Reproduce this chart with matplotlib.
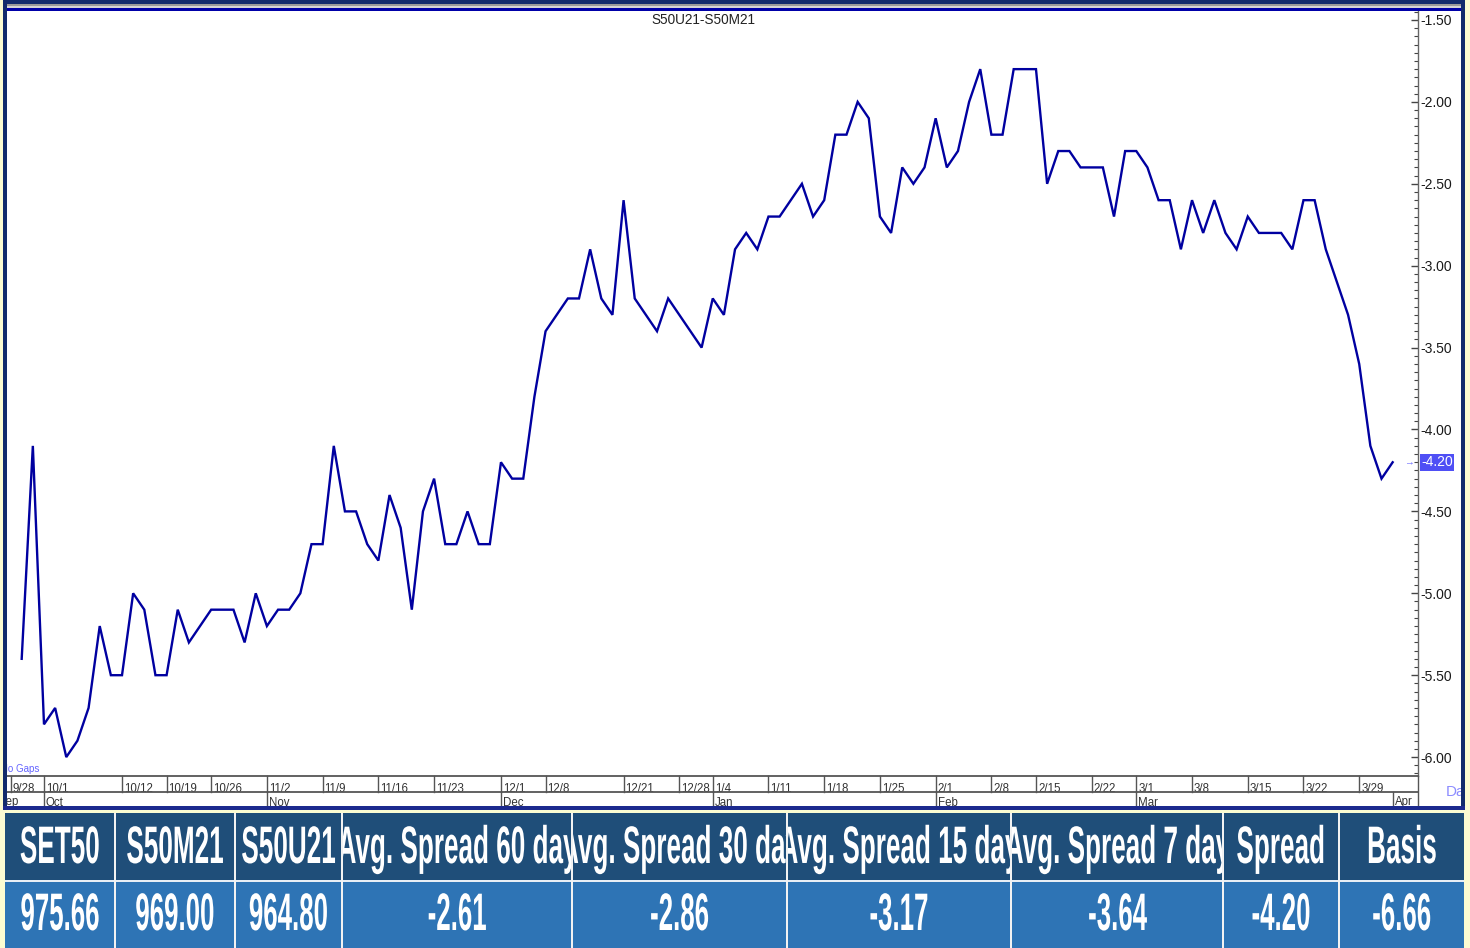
import numpy as np
import matplotlib
matplotlib.use('Agg')
import matplotlib.pyplot as plt
from matplotlib.patches import Rectangle
from matplotlib.ticker import MultipleLocator, FormatStrFormatter
from matplotlib import transforms
from matplotlib.patheffects import AbstractPathEffect
from matplotlib.transforms import Affine2D, ScaledTranslation, Bbox, TransformedBbox

plt.rcParams['font.family'] = ['Liberation Sans', 'DejaVu Sans']
plt.rcParams['axes.unicode_minus'] = False

# ---------------- data ----------------
dates = ["9/28", "9/29", "9/30",
         "10/1", "10/2", "10/5", "10/6", "10/7", "10/8", "10/9", "10/12", "10/14", "10/15",
         "10/16", "10/19", "10/20", "10/21", "10/22", "10/26", "10/27", "10/28", "10/29", "10/30",
         "11/2", "11/3", "11/4", "11/5", "11/6", "11/9", "11/10", "11/11", "11/12", "11/13",
         "11/16", "11/17", "11/18", "11/19", "11/20", "11/23", "11/24", "11/25", "11/26", "11/27", "11/30",
         "12/1", "12/2", "12/3", "12/4", "12/8", "12/9", "12/14", "12/15", "12/16", "12/17", "12/18",
         "12/21", "12/22", "12/23", "12/24", "12/25", "12/28", "12/29", "12/30",
         "1/4", "1/5", "1/6", "1/7", "1/8", "1/11", "1/12", "1/13", "1/14", "1/15", "1/18", "1/19",
         "1/20", "1/21", "1/22", "1/25", "1/26", "1/27", "1/28", "1/29",
         "2/1", "2/2", "2/3", "2/4", "2/5", "2/8", "2/9", "2/10", "2/11", "2/15", "2/16", "2/17",
         "2/18", "2/19", "2/22", "2/23", "2/24", "2/25",
         "3/1", "3/2", "3/3", "3/4", "3/5", "3/8", "3/9", "3/10", "3/11", "3/12", "3/15", "3/16",
         "3/17", "3/18", "3/19", "3/22", "3/23", "3/24", "3/25", "3/26", "3/29", "3/30", "3/31",
         "4/1"]

spread = [np.nan,
          -5.4, -4.1, -5.8, -5.7, -6.0, -5.9, -5.7, -5.2, -5.5, -5.5,
          -5.0, -5.1, -5.5, -5.5, -5.1, -5.3, -5.2, -5.1, -5.1, -5.1,
          -5.3, -5.0, -5.2, -5.1, -5.1, -5.0, -4.7, -4.7, -4.1, -4.5,
          -4.5, -4.7, -4.8, -4.4, -4.6, -5.1, -4.5, -4.3, -4.7, -4.7,
          -4.5, -4.7, -4.7, -4.2, -4.3, -4.3, -3.8, -3.4, -3.3, -3.2,
          -3.2, -2.9, -3.2, -3.3, -2.6, -3.2, -3.3, -3.4, -3.2, -3.3,
          -3.4, -3.5, -3.2, -3.3, -2.9, -2.8, -2.9, -2.7, -2.7, -2.6,
          -2.5, -2.7, -2.6, -2.2, -2.2, -2.0, -2.1, -2.7, -2.8, -2.4,
          -2.5, -2.4, -2.1, -2.4, -2.3, -2.0, -1.8, -2.2, -2.2, -1.8,
          -1.8, -1.8, -2.5, -2.3, -2.3, -2.4, -2.4, -2.4, -2.7, -2.3,
          -2.3, -2.4, -2.6, -2.6, -2.9, -2.6, -2.8, -2.6, -2.8, -2.9,
          -2.7, -2.8, -2.8, -2.8, -2.9, -2.6, -2.6, -2.9, -3.1, -3.3,
          -3.6, -4.1, -4.3, -4.2]

date_ticks = ["9/28", "10/1", "10/12", "10/19", "10/26", "11/2", "11/9", "11/16", "11/23",
              "12/1", "12/8", "12/21", "12/28", "1/4", "1/11", "1/18", "1/25", "2/1", "2/8",
              "2/15", "2/22", "3/1", "3/8", "3/15", "3/22", "3/29"]
month_labels = ["Sep", "Oct", "Nov", "Dec", "Jan", "Feb", "Mar", "Apr"]
month_starts = ["9/1", "10/1", "11/2", "12/1", "1/4", "2/1", "3/1", "4/1"]

title = "S50U21-S50M21"
table_headers = ["SET50", "S50M21", "S50U21", "Avg. Spread 60 day", "Avg. Spread 30 day",
                 "Avg. Spread 15 day", "Avg. Spread 7 day", "Spread", "Basis"]
table_values = [975.66, 969.00, 964.80, -2.61, -2.86, -3.17, -3.64, -4.20, -6.66]


# ------------- helper: horizontally condensed text rendering -------------
class HSqueeze(AbstractPathEffect):
    def __init__(self, sx):
        super().__init__()
        self.sx = sx

    def draw_path(self, renderer, gc, tpath, affine, rgbFace=None):
        ext = tpath.get_extents()
        cx = 0.5 * (ext.x0 + ext.x1)
        t = Affine2D().translate(-cx, 0).scale(self.sx, 1.0).translate(cx, 0) + affine
        renderer.draw_path(gc, tpath, t, rgbFace)


W, H = 1470, 948
fig = plt.figure(figsize=(W / 100, H / 100), dpi=100, facecolor='#FCFCD2')

bg = fig.add_axes([0, 0, 1, 1], zorder=-1)
fg = fig.add_axes([0, 0, 1, 1], zorder=2)
for o in (bg, fg):
    o.set_xlim(0, W)
    o.set_ylim(H, 0)
    o.set_axis_off()
    o.patch.set_visible(False)


def clip_to(artist, x0, y0, x1, y1):
    artist.set_clip_on(True)
    artist.set_clip_box(TransformedBbox(Bbox([[x0, y0], [x1, y1]]), fg.transData))


# white chart panel
bg.add_patch(Rectangle((7, 4), 1454, 802, facecolor='white', edgecolor='none'))

# ---------------- main axes ----------------
ax_l, ax_r, ax_t, ax_b = 7, 1418, 11, 776
ax = fig.add_axes([ax_l / W, 1 - ax_b / H, (ax_r - ax_l) / W, (ax_b - ax_t) / H], zorder=1)
ax.patch.set_visible(False)

x = np.arange(len(dates))
ax.plot(x, spread, color='#0000A0', lw=1.7, solid_joinstyle='miter')

px_per_day = 11.146
x0_px = 10.55
ax.set_xlim((ax_l - x0_px) / px_per_day, (ax_r - x0_px) / px_per_day)
ax.set_ylim(-1.5 - (776 - 20) / 163.8, -1.5 + 9 / 163.8)

for s in ('top', 'left', 'bottom'):
    ax.spines[s].set_visible(False)
ax.spines['right'].set_color('#666666')
ax.spines['right'].set_linewidth(1.0)
ax.set_xticks([])
ax.yaxis.tick_right()
ax.yaxis.set_major_locator(MultipleLocator(0.5))
ax.yaxis.set_minor_locator(MultipleLocator(0.05))
ax.yaxis.set_major_formatter(FormatStrFormatter('%.2f'))
ax.tick_params(axis='y', which='both', direction='in', right=True, left=False,
               labelright=True, labelleft=False, color='#444444', labelcolor='#1a1a1a',
               labelsize=10, pad=2)
ax.tick_params(axis='y', which='major', length=5, width=1)
ax.tick_params(axis='y', which='minor', length=3, width=0.8)

# last value marker
last = spread[-1]
blend = transforms.blended_transform_factory(ax.transAxes, ax.transData)
ax.text(1.0, last, '%.2f' % last, transform=blend + ScaledTranslation(3 / 100, 0, fig.dpi_scale_trans),
        ha='left', va='center', color='white', fontsize=10, clip_on=False,
        bbox=dict(boxstyle='square,pad=0.1', fc='#4F4FF5', ec='none'))
ax.text(1.0, last, '→', transform=blend + ScaledTranslation(-4 / 100, 0, fig.dpi_scale_trans),
        ha='right', va='center', color='#6F6FFF', fontsize=7, clip_on=False)

# title
fg.text(703, 20, title, ha='center', va='center', fontsize=9.8, color='#222222')

# "No Gaps" and "Daily"
t_ng = fg.text(1, 769, 'No Gaps', ha='left', va='center', fontsize=7, color='#6464FF', zorder=1)
clip_to(t_ng, 7, 755, 300, 776)
t_da = fg.text(1446, 792, 'Daily', ha='left', va='center', fontsize=11, color='#8C8CFF', zorder=1)
clip_to(t_da, 1419, 776, 1461, 806)

# ---------------- date strip ----------------
bx = transforms.blended_transform_factory(ax.transData, fg.transData)
fg.plot([ax_l, ax_r], [776, 776], color='#555555', lw=1.3, zorder=3)
fg.plot([ax_l, ax_r], [792, 792], color='#555555', lw=1.3, zorder=3)
fg.plot([ax_r, ax_r], [776, 806], color='#555555', lw=1.0, zorder=3)
txt_off = ScaledTranslation(2 / 100, 0, fig.dpi_scale_trans)
for d in date_ticks:
    j = dates.index(d)
    fg.plot([j, j], [776, 792], color='#555555', lw=1.0, transform=bx, zorder=3)
    t = fg.text(j, 791.5, d, transform=bx + txt_off, ha='left', va='baseline',
                fontsize=8.3, color='#333333', zorder=2)
    clip_to(t, 7, 776, ax_r, 792)
for m, d in zip(month_labels, month_starts):
    if d in dates and dates.index(d) > 0:
        j = dates.index(d)
        fg.plot([j, j], [792, 806], color='#555555', lw=1.0, transform=bx, zorder=3)
        t = fg.text(j, 805.5, m, transform=bx + txt_off, ha='left', va='baseline',
                    fontsize=8.3, color='#333333', zorder=2)
    else:
        t = fg.text(-1.05, 805.5, m, transform=bx, ha='left', va='baseline',
                    fontsize=8.3, color='#333333', zorder=2)
    clip_to(t, 7, 792, ax_r, 806)

# ---------------- frame ----------------
navy = '#122B6C'
fg.add_patch(Rectangle((3, 0), 1462, 4, fc=navy, ec='none', zorder=5))
fg.add_patch(Rectangle((3, 0), 4, 810, fc=navy, ec='none', zorder=5))
fg.add_patch(Rectangle((1461, 0), 4, 810, fc=navy, ec='none', zorder=5))
fg.add_patch(Rectangle((3, 806), 1462, 4, fc='#1C2A8E', ec='none', zorder=5))
fg.add_patch(Rectangle((7, 4), 1454, 2, fc='#9A9A9A', ec='none', zorder=5))
fg.add_patch(Rectangle((7, 6), 1454, 2, fc='#D4D4D4', ec='none', zorder=5))
fg.add_patch(Rectangle((7, 8), 1454, 3, fc='#0000A8', ec='none', zorder=5))

# ---------------- table ----------------
col_edges = [5, 115, 235, 342, 572, 787, 1011, 1223, 1339, 1464]
hdr_top, hdr_bot, val_top, val_bot = 813, 880, 882, 948
fg.add_patch(Rectangle((col_edges[0], hdr_top), col_edges[-1] - col_edges[0], hdr_bot - hdr_top,
                       fc='#1F4E79', ec='none', zorder=4))
fg.add_patch(Rectangle((col_edges[0], val_top), col_edges[-1] - col_edges[0], val_bot - val_top,
                       fc='#2E74B5', ec='none', zorder=4))
fg.add_patch(Rectangle((col_edges[0], hdr_bot), col_edges[-1] - col_edges[0], val_top - hdr_bot,
                       fc='#E8EEF5', ec='none', zorder=4))
for xe in col_edges[1:-1]:
    fg.add_patch(Rectangle((xe - 1, hdr_top), 2, val_bot - hdr_top, fc='#F2F2F2', ec='none', zorder=6))

for k, (h, v) in enumerate(zip(table_headers, table_values)):
    xl, xr = col_edges[k], col_edges[k + 1]
    cx = 0.5 * (xl + xr)
    t1 = fg.text(cx, 849, h, ha='center', va='center', fontsize=38, color='white',
                 fontweight='bold', zorder=5, path_effects=[HSqueeze(0.495)])
    clip_to(t1, xl + 1, hdr_top, xr - 1, hdr_bot)
    t2 = fg.text(cx, 916, '%.2f' % v, ha='center', va='center', fontsize=38, color='white',
                 fontweight='bold', zorder=5, path_effects=[HSqueeze(0.49)])
    clip_to(t2, xl + 1, val_top, xr - 1, val_bot)

fig.savefig('out.png', dpi=100, facecolor=fig.get_facecolor())
